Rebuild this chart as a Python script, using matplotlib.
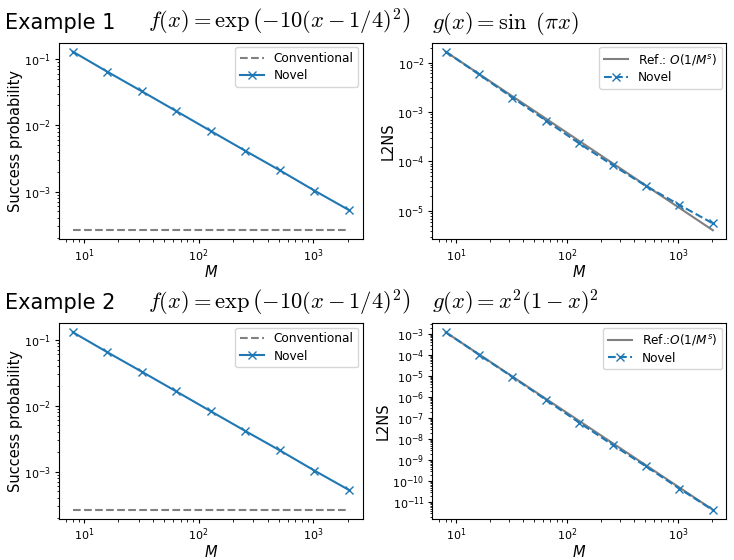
import matplotlib
matplotlib.use("Agg")
import matplotlib.pyplot as plt
from matplotlib.ticker import LogLocator

M = [8, 16, 32, 64, 128, 256, 512, 1024, 2048]

# Example 1
succ_novel_1 = [0.130, 0.0646, 0.0327, 0.0164, 0.0082, 0.00412, 0.00209, 0.001035, 0.000525]
succ_conv_1 = [0.00026] * 9
l2ns_novel_1 = [1.66e-2, 5.73e-3, 1.95e-3, 6.7e-4, 2.31e-4, 8.4e-5, 3.18e-5, 1.32e-5, 5.57e-6]
l2ns_ref_1 = [1.66e-2, 5.87e-3, 2.075e-3, 7.34e-4, 2.59e-4, 9.17e-5, 3.24e-5, 1.146e-5, 4.05e-6]

# Example 2
succ_novel_2 = [0.130, 0.0646, 0.0327, 0.0164, 0.0082, 0.00412, 0.00209, 0.001035, 0.000525]
succ_conv_2 = [0.00026] * 9
l2ns_novel_2 = [1.2e-3, 1.02e-4, 9.0e-6, 7.45e-7, 6.1e-8, 5.38e-9, 5.1e-10, 4.5e-11, 4.3e-12]
l2ns_ref_2 = [1.2e-3, 1.06e-4, 9.38e-6, 8.29e-7, 7.32e-8, 6.47e-9, 5.72e-10, 5.05e-11, 4.47e-12]

headings = ["Example 1", "Example 2"]
f_titles = [r"$f(x) = \exp\left(-10(x-1/4)^2\right)$", r"$f(x) = \exp\left(-10(x-1/4)^2\right)$"]
g_titles = [r"$g(x) = \sin\ (\pi x)$", r"$g(x) = x^2(1-x)^2$"]
ref_labels = [r"Ref.: $O(1/M^s)$", r"Ref.:$O(1/M^s)$"]

W, H = 734, 560
fig = plt.figure(figsize=(W / 100, H / 100), dpi=100)

def ax_at(left, top, right, bottom):
    return fig.add_axes([left / W, 1 - bottom / H, (right - left) / W, (bottom - top) / H])

def style(ax):
    ax.set_xscale("log")
    ax.set_yscale("log")
    ax.yaxis.set_major_locator(LogLocator(base=10, numticks=30))
    ax.yaxis.set_minor_locator(LogLocator(base=10, subs=range(2, 10), numticks=300))
    ax.tick_params(which="major", labelsize=8, length=3.2, pad=2.4)
    ax.tick_params(which="minor", length=1.8)
    ax.set_xlabel(r"$M$", fontsize=10.5, labelpad=0.5)

def legend(ax):
    ax.legend(loc="upper right", fontsize=8.7, labelspacing=0.35, borderaxespad=0.35)

rows = [
    (42.7, 239.2, succ_novel_1, succ_conv_1, l2ns_novel_1, l2ns_ref_1),
    (323.3, 519.0, succ_novel_2, succ_conv_2, l2ns_novel_2, l2ns_ref_2),
]

for i, (top, bottom, sn, sc, ln, lr) in enumerate(rows):
    a1 = ax_at(59, top, 362.7, bottom)
    a1.plot(M, sc, linestyle="--", color="gray", label="Conventional")
    a1.plot(M, sn, marker="x", color="C0", label="Novel")
    style(a1)
    a1.set_ylabel("Success probability", fontsize=10.5, labelpad=1)
    legend(a1)

    a2 = ax_at(432.3, top, 726.2, bottom)
    a2.plot(M, lr, color="gray", label=ref_labels[i])
    a2.plot(M, ln, marker="x", linestyle="--", color="C0", label="Novel")
    style(a2)
    a2.set_ylabel("L2NS", fontsize=10.5, labelpad=1)
    legend(a2)

    ytxt = 1 - (top - 14) / H
    fig.text(5 / W, ytxt, headings[i], fontsize=15, va="baseline", ha="left")
    fig.text(148 / W, ytxt, f_titles[i], fontsize=16.2, va="baseline", ha="left", math_fontfamily="cm")
    fig.text(432 / W, ytxt, g_titles[i], fontsize=16.2, va="baseline", ha="left", math_fontfamily="cm")

fig.savefig("out.png", dpi=100)
